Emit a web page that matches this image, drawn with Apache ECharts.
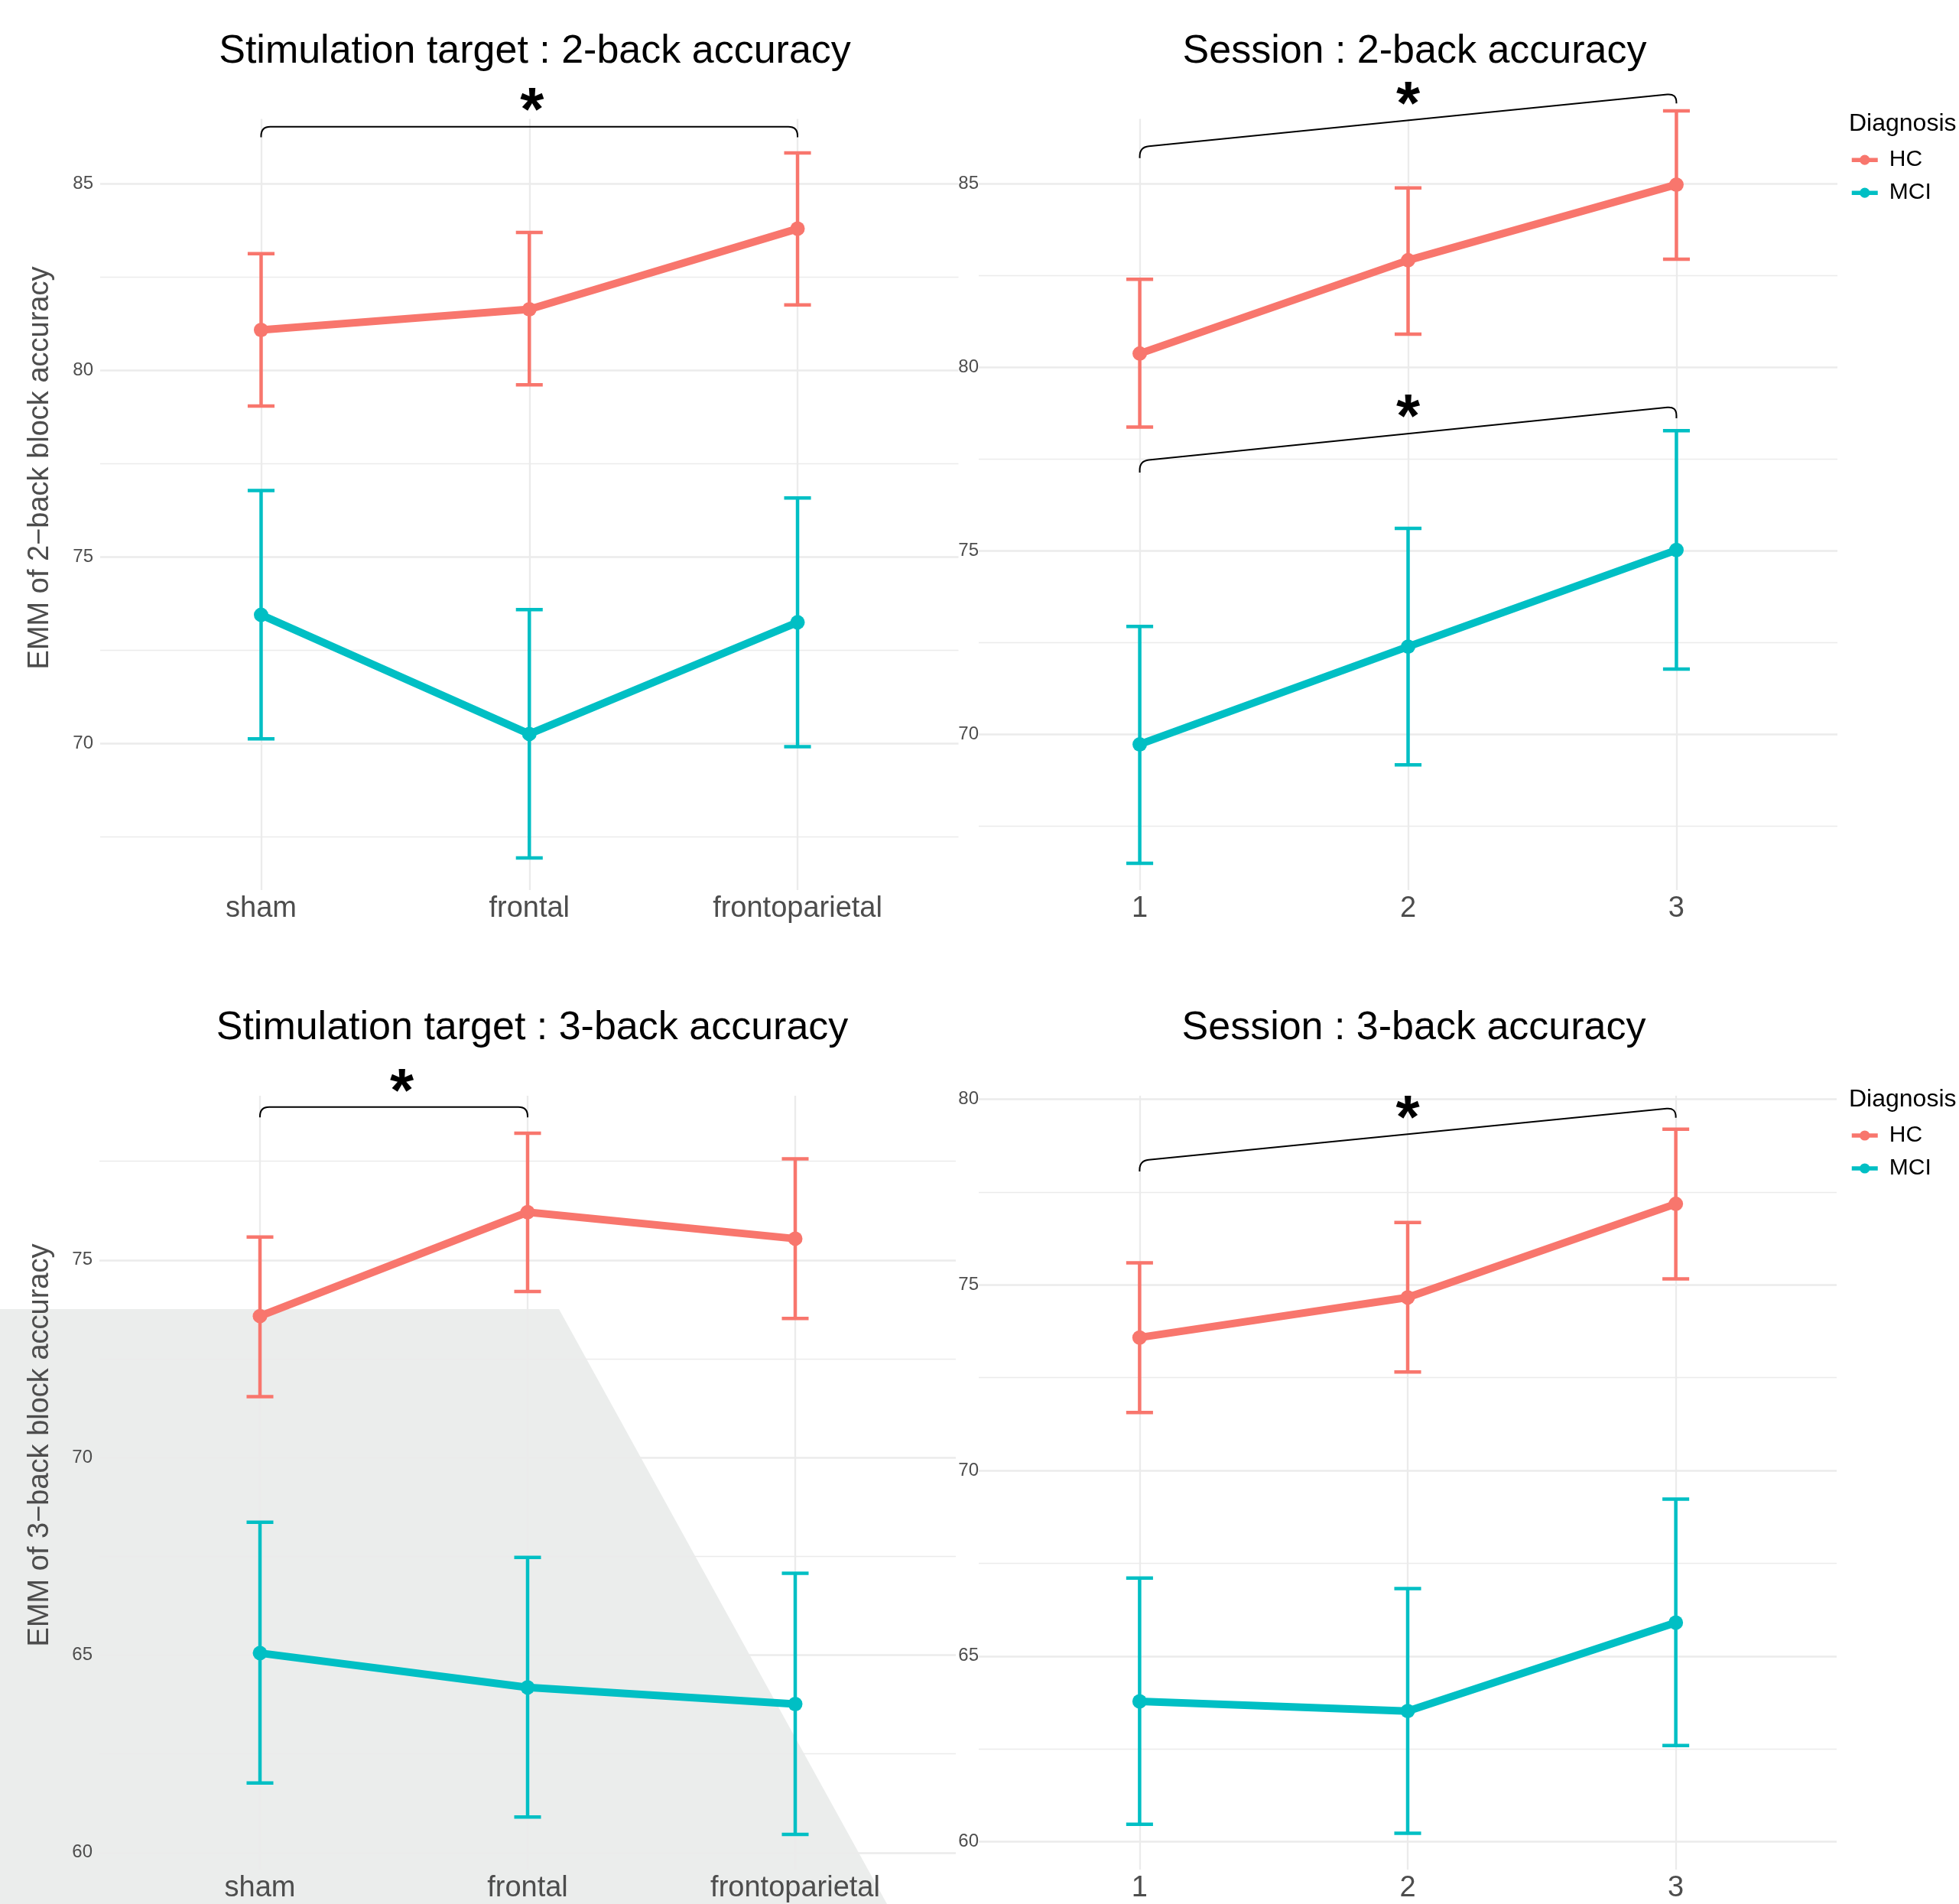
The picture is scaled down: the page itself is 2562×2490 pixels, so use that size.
<!DOCTYPE html>
<html>
<head>
<meta charset="utf-8">
<script src="https://cdn.jsdelivr.net/npm/echarts@6.0.0/dist/echarts.min.js"></script>
<style>
  html, body { margin: 0; padding: 0; background: #ffffff; }
  #chart { width: 2562px; height: 2490px; }
</style>
</head>
<body>
<div id="chart"></div>
<script>
// x positions and labels
const positions = [1, 2, 3];
const targetLabels = ['sham', 'frontal', 'frontoparietal'];
const sessionLabels = ['1', '2', '3'];

// Stimulation target : 2-back accuracy
const t2HC = [81.08, 81.63, 83.79];
const t2HCLow = [79.04, 79.61, 81.75];
const t2HCHigh = [83.12, 83.69, 85.82];
const t2MCI = [73.45, 70.26, 73.25];
const t2MCILow = [70.13, 66.94, 69.92];
const t2MCIHigh = [76.78, 73.59, 76.58];

// Session : 2-back accuracy
const s2HC = [80.37, 82.91, 84.97];
const s2HCLow = [78.37, 80.90, 82.94];
const s2HCHigh = [82.39, 84.88, 86.98];
const s2MCI = [69.73, 72.39, 75.02];
const s2MCILow = [66.49, 69.17, 71.78];
const s2MCIHigh = [72.94, 75.61, 78.27];

// Stimulation target : 3-back accuracy
const t3HC = [73.58, 76.21, 75.54];
const t3HCLow = [71.54, 74.20, 73.52];
const t3HCHigh = [75.58, 78.21, 77.56];
const t3MCI = [65.05, 64.18, 63.76];
const t3MCILow = [61.76, 60.90, 60.46];
const t3MCIHigh = [68.36, 67.47, 67.07];

// Session : 3-back accuracy
const s3HC = [73.58, 74.66, 77.18];
const s3HCLow = [71.56, 72.65, 75.16];
const s3HCHigh = [75.59, 76.68, 79.19];
const s3MCI = [63.78, 63.52, 65.90];
const s3MCILow = [60.47, 60.23, 62.59];
const s3MCIHigh = [67.10, 66.82, 69.23];

// y ticks (major / minor grid)
const t2Ticks = [70, 75, 80, 85];
const t2Minor = [67.5, 72.5, 77.5, 82.5];
const s2Ticks = [70, 75, 80, 85];
const s2Minor = [67.5, 72.5, 77.5, 82.5];
const t3Ticks = [60, 65, 70, 75];
const t3Minor = [62.5, 67.5, 72.5, 77.5];
const s3Ticks = [60, 65, 70, 75, 80];
const s3Minor = [62.5, 67.5, 72.5, 77.5];

// significance brackets: [xLeft, yLeftTip, yLeftTop, xRight, yRightTop, yRightTip]
const t2Brackets = [[1, 86.24, 86.52, 3, 86.52, 86.24]];
const t2Stars = [[2.01, 87.27]];
const s2Brackets = [[1, 85.69, 85.99, 3, 87.45, 87.18], [1, 77.13, 77.45, 3, 78.93, 78.61]];
const s2Stars = [[2.0, 87.47], [2.0, 78.96]];
const t3Brackets = [[1, 78.61, 78.87, 2, 78.87, 78.61]];
const t3Stars = [[1.53, 79.56]];
const s3Brackets = [[1, 78.05, 78.34, 3, 79.77, 79.50]];
const s3Stars = [[2.0, 79.79]];

const HC_COLOR = '#F8766D';
const MCI_COLOR = '#00BFC4';
const GRID_COLOR = '#EBEBEB';
const AXIS_TEXT = '#4D4D4D';
const FONT = "'Liberation Sans', Arial, Helvetica, sans-serif";
const STAR_SIZE = 80;

function pairs(ys) {
  return positions.map((x, i) => [x, ys[i]]);
}
function bars(lo, hi) {
  return positions.map((x, i) => [x, lo[i], hi[i]]);
}

function renderErrorBar(params, api) {
  const x = api.value(0);
  const top = api.coord([x, api.value(2)]);
  const bottom = api.coord([x, api.value(1)]);
  const half = api.size([0.1, 0])[0] / 2;
  const style = { stroke: api.visual('color'), lineWidth: 4.5, fill: null };
  return {
    type: 'group',
    children: [
      { type: 'line', shape: { x1: top[0], y1: top[1], x2: bottom[0], y2: bottom[1] }, style: style },
      { type: 'line', shape: { x1: top[0] - half, y1: top[1], x2: top[0] + half, y2: top[1] }, style: style },
      { type: 'line', shape: { x1: bottom[0] - half, y1: bottom[1], x2: bottom[0] + half, y2: bottom[1] }, style: style }
    ]
  };
}

function renderBracket(params, api) {
  const a0 = api.coord([api.value(0), api.value(1)]);
  const a1 = api.coord([api.value(0), api.value(2)]);
  const b1 = api.coord([api.value(3), api.value(4)]);
  const b0 = api.coord([api.value(3), api.value(5)]);
  const r = 12;
  const dx = b1[0] - a1[0], dy = b1[1] - a1[1];
  const len = Math.sqrt(dx * dx + dy * dy);
  const ux = dx / len, uy = dy / len;
  const d = 'M' + a0[0] + ',' + a0[1] +
    ' L' + a1[0] + ',' + (a1[1] + r) +
    ' Q' + a1[0] + ',' + a1[1] + ' ' + (a1[0] + ux * r) + ',' + (a1[1] + uy * r) +
    ' L' + (b1[0] - ux * r) + ',' + (b1[1] - uy * r) +
    ' Q' + b1[0] + ',' + b1[1] + ' ' + b1[0] + ',' + (b1[1] + r) +
    ' L' + b0[0] + ',' + b0[1];
  return {
    type: 'path',
    shape: { pathData: d },
    style: { stroke: '#000000', lineWidth: 2, fill: null }
  };
}

function renderStar(params, api) {
  const p = api.coord([api.value(0), api.value(1)]);
  return {
    type: 'text',
    x: p[0],
    y: p[1] + STAR_SIZE * 0.23,
    style: {
      text: '*',
      font: 'bold ' + STAR_SIZE + 'px ' + FONT,
      fill: '#000000',
      align: 'center', verticalAlign: 'middle',
      textAlign: 'center', textVerticalAlign: 'middle'
    }
  };
}

const grids = [];
const xAxes = [];
const yAxes = [];
const series = [];

function addPanel(p) {
  const g = grids.length;
  grids.push({ left: p.box[0], top: p.box[1], width: p.box[2], height: p.box[3] });
  xAxes.push({
    type: 'value', gridIndex: g, min: 0.4, max: 3.6,
    axisLine: { show: false },
    axisTick: { show: false, customValues: positions },
    axisLabel: {
      customValues: positions,
      formatter: (v) => p.labels[Math.round(v) - 1],
      color: AXIS_TEXT, fontSize: 38, fontFamily: FONT, margin: 6
    },
    splitLine: { show: true, lineStyle: { color: GRID_COLOR, width: 2.3 } }
  });
  const yMajor = yAxes.length;
  yAxes.push({
    type: 'value', gridIndex: g, min: p.yMin, max: p.yMax, position: 'left',
    axisLine: { show: false },
    axisTick: { show: false, customValues: p.ticks },
    axisLabel: { customValues: p.ticks, color: AXIS_TEXT, fontSize: 24, fontFamily: FONT, margin: p.labelMargin },
    splitLine: { show: true, lineStyle: { color: GRID_COLOR, width: 2.7 } }
  });
  yAxes.push({
    type: 'value', gridIndex: g, min: p.yMin, max: p.yMax, position: 'left',
    axisLine: { show: false },
    axisTick: { show: false, customValues: p.minor },
    axisLabel: { show: false, customValues: p.minor },
    splitLine: { show: true, lineStyle: { color: GRID_COLOR, width: 1.4 } }
  });
  const common = { xAxisIndex: g, yAxisIndex: yMajor };
  [['HC', HC_COLOR, p.hc, p.hcLow, p.hcHigh], ['MCI', MCI_COLOR, p.mci, p.mciLow, p.mciHigh]].forEach(function (s) {
    series.push(Object.assign({
      name: s[0] + ' error', type: 'custom', renderItem: renderErrorBar,
      itemStyle: { color: s[1] }, data: bars(s[3], s[4]), z: 2, silent: true
    }, common));
    series.push(Object.assign({
      name: s[0], type: 'line', data: pairs(s[2]),
      symbol: 'circle', symbolSize: 19, showSymbol: true,
      itemStyle: { color: s[1] }, lineStyle: { color: s[1], width: 10 },
      z: 3, silent: true
    }, common));
  });
  series.push(Object.assign({
    name: 'bracket', type: 'custom', renderItem: renderBracket, clip: false,
    data: p.brackets, z: 4, silent: true
  }, common));
  series.push(Object.assign({
    name: 'star', type: 'custom', renderItem: renderStar, clip: false,
    data: p.stars, z: 4, silent: true
  }, common));
}

addPanel({
  box: [131, 155.5, 1122.5, 1008.5], yMin: 66.081, yMax: 86.730, labelMargin: 9,
  labels: targetLabels, ticks: t2Ticks, minor: t2Minor,
  hc: t2HC, hcLow: t2HCLow, hcHigh: t2HCHigh, mci: t2MCI, mciLow: t2MCILow, mciHigh: t2MCIHigh,
  brackets: t2Brackets, stars: t2Stars
});
addPanel({
  box: [1280, 155.5, 1123, 1008.5], yMin: 65.762, yMax: 86.759, labelMargin: 0,
  labels: sessionLabels, ticks: s2Ticks, minor: s2Minor,
  hc: s2HC, hcLow: s2HCLow, hcHigh: s2HCHigh, mci: s2MCI, mciLow: s2MCILow, mciHigh: s2MCIHigh,
  brackets: s2Brackets, stars: s2Stars
});
addPanel({
  box: [130, 1433, 1120, 1012], yMin: 59.570, yMax: 79.157, labelMargin: 9,
  labels: targetLabels, ticks: t3Ticks, minor: t3Minor,
  hc: t3HC, hcLow: t3HCLow, hcHigh: t3HCHigh, mci: t3MCI, mciLow: t3MCILow, mciHigh: t3MCIHigh,
  brackets: t3Brackets, stars: t3Stars
});
addPanel({
  box: [1280, 1433, 1122, 1012], yMin: 59.250, yMax: 80.091, labelMargin: 0,
  labels: sessionLabels, ticks: s3Ticks, minor: s3Minor,
  hc: s3HC, hcLow: s3HCLow, hcHigh: s3HCHigh, mci: s3MCI, mciLow: s3MCILow, mciHigh: s3MCIHigh,
  brackets: s3Brackets, stars: s3Stars
});

function label(text, x, y, size, color, align, rotation) {
  return {
    type: 'text', x: x, y: y, rotation: rotation || 0, silent: true,
    style: {
      text: text, font: size + 'px ' + FONT, fill: color,
      align: align, verticalAlign: 'middle',
      textAlign: align, textVerticalAlign: 'middle'
    }
  };
}

const legendBase = {
  orient: 'vertical', left: 2419, padding: 0, itemGap: 13,
  itemWidth: 34, itemHeight: 16.5, selectedMode: false,
  data: ['HC', 'MCI'],
  lineStyle: { width: 5.5 },
  textStyle: { fontSize: 30, fontFamily: FONT, color: '#000000', padding: [0, 0, 0, 10] }
};

const chart = echarts.init(document.getElementById('chart'), null, { renderer: 'canvas' });
chart.setOption({
  backgroundColor: '#ffffff',
  animation: false,
  grid: grids,
  xAxis: xAxes,
  yAxis: yAxes,
  legend: [
    Object.assign({}, legendBase, { top: 194.2 }),
    Object.assign({}, legendBase, { top: 1470 })
  ],
  graphic: [
    {
      type: 'polygon', z: -10, silent: true,
      shape: { points: [[0, 1712], [731, 1712], [1160, 2490], [0, 2490]] },
      style: { fill: '#EBEDEC' }
    },
    label('Stimulation target : 2-back accuracy', 699.5, 68, 52, '#000000', 'center'),
    label('Session : 2-back accuracy', 1850, 68, 52, '#000000', 'center'),
    label('Stimulation target : 3-back accuracy', 696, 1345, 52, '#000000', 'center'),
    label('Session : 3-back accuracy', 1849, 1345, 52, '#000000', 'center'),
    label('EMM of 2\u2212back block accuracy', 53, 612, 38, AXIS_TEXT, 'center', Math.PI / 2),
    label('EMM of 3\u2212back block accuracy', 53, 1890, 38, AXIS_TEXT, 'center', Math.PI / 2),
    label('Diagnosis', 2418, 161.7, 32, '#000000', 'left'),
    label('Diagnosis', 2418, 1437.8, 32, '#000000', 'left')
  ],
  series: series
});
</script>
</body>
</html>
